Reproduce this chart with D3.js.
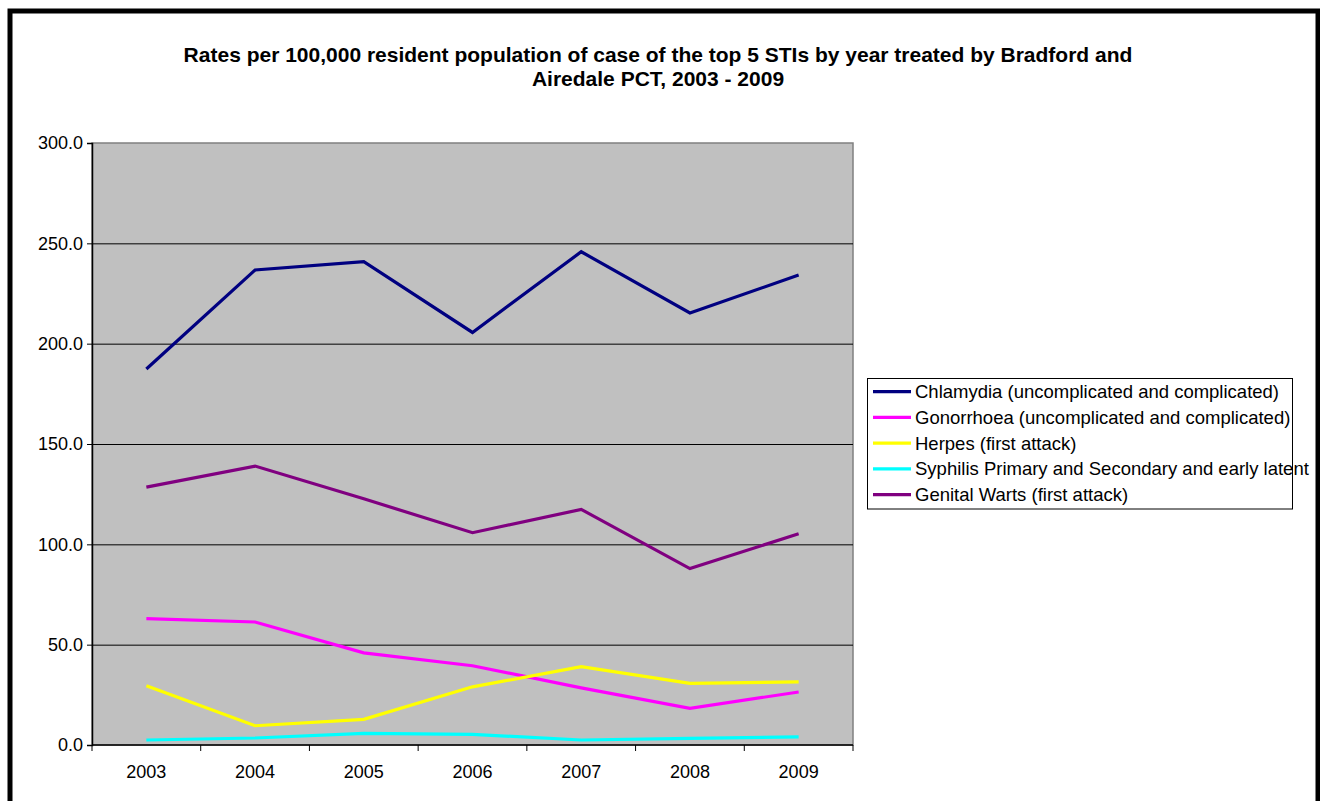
<!DOCTYPE html>
<html>
<head>
<meta charset="utf-8">
<script src="https://cdn.jsdelivr.net/npm/d3@7"></script>
<style>
  body { margin: 0; background: #fff; }
  svg { display: block; font-family: "Liberation Sans", Arial, sans-serif; }
</style>
</head>
<body>
<svg id="chart" width="1320" height="801"></svg>
<script>
// Chart data
const years = ['2003', '2004', '2005', '2006', '2007', '2008', '2009'];
const chlamydia = [187.4, 236.7, 240.9, 205.6, 245.8, 215.3, 234.2];
const gonorrhoea = [63.0, 61.3, 45.9, 39.5, 28.5, 18.3, 26.4];
const herpes = [29.5, 9.6, 12.8, 29.0, 39.0, 30.7, 31.5];
const syphilis = [2.5, 3.5, 5.8, 5.3, 2.5, 3.3, 4.0];
const warts = [128.5, 139.0, 122.7, 105.8, 117.4, 87.9, 105.3];
const yTicks = [0, 50, 100, 150, 200, 250, 300];

const series = [
    { name: 'Chlamydia (uncomplicated and complicated)', values: chlamydia, color: '#000080' },
    { name: 'Gonorrhoea (uncomplicated and complicated)', values: gonorrhoea, color: '#FF00FF' },
    { name: 'Herpes (first attack)', values: herpes, color: '#FFFF00' },
    { name: 'Syphilis Primary and Secondary and early latent', values: syphilis, color: '#00FFFF' },
    { name: 'Genital Warts (first attack)', values: warts, color: '#800080' }
];

const svg = d3.select('#chart');

// Outer frame
svg.append('rect')
    .attr('x', 10).attr('y', 11)
    .attr('width', 1308).attr('height', 795)
    .attr('fill', 'none')
    .attr('stroke', '#000')
    .attr('stroke-width', 5);

// Plot area
const plot = { left: 92, top: 143, right: 853, bottom: 745 };

const x = d3.scaleBand()
    .domain(years)
    .range([plot.left, plot.right]);

const y = d3.scaleLinear()
    .domain([0, 300])
    .range([plot.bottom, plot.top]);

svg.append('rect')
    .attr('x', plot.left).attr('y', plot.top)
    .attr('width', plot.right - plot.left)
    .attr('height', plot.bottom - plot.top)
    .attr('fill', '#C0C0C0')
    .attr('stroke', '#808080')
    .attr('stroke-width', 1.5);

// Gridlines
svg.append('g')
    .selectAll('line')
    .data(yTicks.filter(d => d > 0 && d < 300))
    .enter()
    .append('line')
    .attr('x1', plot.left).attr('x2', plot.right)
    .attr('y1', d => y(d) + 0.5).attr('y2', d => y(d) + 0.5)
    .attr('stroke', '#000')
    .attr('stroke-width', 1);

// Y axis
const yAxis = svg.append('g')
    .attr('transform', `translate(${plot.left},0)`)
    .call(d3.axisLeft(y).tickValues(yTicks).tickFormat(d3.format('.1f')).tickSize(5).tickPadding(4));
yAxis.select('.domain').attr('stroke', '#000').attr('stroke-width', 1.5);
yAxis.selectAll('.tick line').attr('stroke', '#000');
yAxis.selectAll('text')
    .attr('font-size', 18)
    .attr('font-family', '"Liberation Sans", Arial, sans-serif')
    .attr('fill', '#000');

// X axis: ticks at category boundaries
const xAxisG = svg.append('g')
    .attr('transform', `translate(0,${plot.bottom})`);
xAxisG.append('line')
    .attr('x1', plot.left).attr('x2', plot.right)
    .attr('stroke', '#000').attr('stroke-width', 1.5);
const boundaries = years.map(d => x(d)).concat([plot.right]);
xAxisG.selectAll('.tk')
    .data(boundaries)
    .enter()
    .append('line')
    .attr('x1', d => d).attr('x2', d => d)
    .attr('y1', 0).attr('y2', 6)
    .attr('stroke', '#000');
xAxisG.selectAll('.lbl')
    .data(years)
    .enter()
    .append('text')
    .attr('x', d => x(d) + x.bandwidth() / 2)
    .attr('y', 33)
    .attr('text-anchor', 'middle')
    .attr('font-size', 18)
    .text(d => d);

// Lines
const line = d3.line()
    .x((d, i) => x(years[i]) + x.bandwidth() / 2)
    .y(d => y(d));

svg.append('g')
    .selectAll('path')
    .data(series)
    .enter()
    .append('path')
    .attr('d', d => line(d.values))
    .attr('fill', 'none')
    .attr('stroke', d => d.color)
    .attr('stroke-width', 3.2);

// Title
const title = svg.append('text')
    .attr('text-anchor', 'middle')
    .attr('font-size', 21)
    .attr('font-weight', 'bold');
title.append('tspan').attr('x', 658).attr('y', 62)
    .text('Rates per 100,000 resident population of case of the top 5 STIs by year treated by Bradford and');
title.append('tspan').attr('x', 658).attr('y', 86)
    .text('Airedale PCT, 2003 - 2009');

// Legend
const legend = svg.append('g');
legend.append('rect')
    .attr('x', 867.5).attr('y', 378.5)
    .attr('width', 425).attr('height', 130.5)
    .attr('fill', '#fff')
    .attr('stroke', '#000')
    .attr('stroke-width', 1);

const rows = legend.selectAll('.row')
    .data(series)
    .enter()
    .append('g')
    .attr('transform', (d, i) => `translate(0,${391.7 + i * 25.75})`);
rows.append('line')
    .attr('x1', 873).attr('x2', 911)
    .attr('stroke', d => d.color)
    .attr('stroke-width', 3.2);
rows.append('text')
    .attr('x', 915)
    .attr('y', 6.5)
    .attr('font-size', 18.5)
    .text(d => d.name);
</script>
</body>
</html>
